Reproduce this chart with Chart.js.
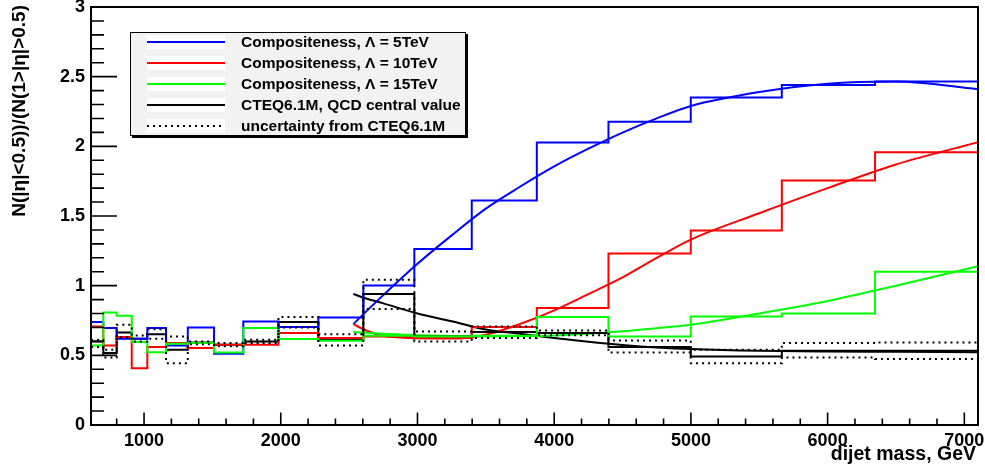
<!DOCTYPE html>
<html>
<head>
<meta charset="utf-8">
<script src="https://cdn.jsdelivr.net/npm/chart.js@4.4.1/dist/chart.umd.min.js"></script>
<style>
  html, body { margin: 0; padding: 0; background: #fff; }
  #c { display: block; }
</style>
</head>
<body>
<canvas id="c" width="985" height="467"></canvas>
<script>
// dijet mass bin edges, GeV
const binEdges = [612, 702, 800, 910, 1024, 1161, 1320, 1512, 1726, 1983, 2275, 2604, 2977, 3397, 3873, 4397, 4999, 5665, 6347, 7100];

// histogram contents, one value per bin
const lambda5 = [0.739, 0.696, 0.619, 0.619, 0.696, 0.571, 0.700, 0.511, 0.743, 0.703, 0.772, 1.002, 1.264, 1.612, 2.027, 2.177, 2.35, 2.44, 2.465];
const lambda10 = [0.707, 0.571, 0.631, 0.408, 0.559, 0.588, 0.552, 0.576, 0.576, 0.66, 0.624, 0.635, 0.624, 0.703, 0.84, 1.23, 1.396, 1.755, 1.957];
const lambda15 = [0.571, 0.808, 0.784, 0.595, 0.523, 0.583, 0.588, 0.52, 0.696, 0.617, 0.604, 0.64, 0.635, 0.64, 0.775, 0.635, 0.779, 0.80, 1.10];
const qcdCentral = [0.60, 0.516, 0.664, 0.619, 0.652, 0.54, 0.592, 0.576, 0.60, 0.739, 0.617, 0.94, 0.635, 0.667, 0.66, 0.559, 0.491, 0.532, 0.532];
const qcdUp = [0.61, 0.54, 0.719, 0.643, 0.688, 0.635, 0.60, 0.588, 0.612, 0.775, 0.652, 1.043, 0.671, 0.707, 0.679, 0.607, 0.54, 0.588, 0.592];
const qcdDown = [0.56, 0.484, 0.63, 0.60, 0.619, 0.444, 0.58, 0.565, 0.588, 0.70, 0.571, 0.832, 0.60, 0.624, 0.645, 0.52, 0.444, 0.484, 0.473];

const fitMass = [2531, 2620, 2750, 3000, 3250, 3500, 3750, 4000, 4250, 4500, 4750, 5000, 5500, 6000, 6500, 7100];
const fit5 = [0.724, 0.81, 0.932, 1.157, 1.361, 1.553, 1.71, 1.856, 1.983, 2.099, 2.201, 2.29, 2.39, 2.45, 2.465, 2.41];
const fit10 = [0.724, 0.68, 0.64, 0.622, 0.62, 0.648, 0.725, 0.823, 0.94, 1.06, 1.20, 1.331, 1.52, 1.70, 1.87, 2.03];
const fit15 = [0.667, 0.662, 0.655, 0.645, 0.638, 0.635, 0.637, 0.643, 0.655, 0.672, 0.695, 0.72, 0.80, 0.89, 1.0, 1.14];
const fitQcd = [0.94, 0.91, 0.873, 0.80, 0.745, 0.685, 0.655, 0.625, 0.598, 0.575, 0.557, 0.545, 0.532, 0.527, 0.525, 0.522];

const xTickLabels = [1000, 2000, 3000, 4000, 5000, 6000, 7000];
const yTickLabels = [0, 0.5, 1, 1.5, 2, 2.5, 3];

const legendNames = ['Compositeness, \u039b = 5TeV', 'Compositeness, \u039b = 10TeV', 'Compositeness, \u039b = 15TeV', 'CTEQ6.1M, QCD central value', 'uncertainty from CTEQ6.1M'];
const legendColors = ['#0000ff', '#ff0000', '#00ff00', '#000000', '#000000'];

const FONT = '"Liberation Sans", Arial, Helvetica, sans-serif';

function histPoints(vals) {
    const pts = vals.map((v, i) => ({ x: binEdges[i], y: v }));
    pts.push({ x: binEdges[binEdges.length - 1], y: vals[vals.length - 1] });
    return pts;
}

function curvePoints(vals) {
    return vals.map((v, i) => ({ x: fitMass[i], y: v }));
}

function histSet(vals, color, dash) {
    return {
        data: histPoints(vals),
        borderColor: color,
        borderWidth: 2,
        borderDash: dash || [],
        stepped: true,
        showLine: true,
        pointRadius: 0,
        fill: false
    };
}

function curveSet(vals, color) {
    return {
        data: curvePoints(vals),
        borderColor: color,
        borderWidth: 2,
        cubicInterpolationMode: 'monotone',
        showLine: true,
        pointRadius: 0,
        fill: false
    };
}

const frameAndLegend = {
    id: 'frameAndLegend',
    afterDraw(chart) {
        const { ctx, chartArea: a, scales: { x, y } } = chart;
        ctx.save();
        ctx.strokeStyle = '#000';

        // ticks, drawn inside the frame like ROOT does
        ctx.lineWidth = 1.6;
        ctx.beginPath();
        for (let v = 800; v <= 7000; v += 200) {
            const px = x.getPixelForValue(v);
            const len = v % 1000 === 0 ? 12.5 : 6.5;
            ctx.moveTo(px, a.bottom);
            ctx.lineTo(px, a.bottom - len);
        }
        for (let k = 1; k < 30; k++) {
            const py = y.getPixelForValue(k / 10);
            const len = k % 5 === 0 ? 26 : 13;
            ctx.moveTo(a.left, py);
            ctx.lineTo(a.left + len, py);
        }
        ctx.stroke();

        // frame
        ctx.lineWidth = 2;
        ctx.strokeRect(a.left, a.top, a.right - a.left, a.bottom - a.top);

        // axis titles
        ctx.fillStyle = '#000';
        ctx.font = 'bold 19.5px ' + FONT;
        ctx.textAlign = 'right';
        ctx.textBaseline = 'alphabetic';
        ctx.fillText('dijet mass, GeV', a.right - 2, 460);

        ctx.save();
        ctx.font = 'bold 19px ' + FONT;
        ctx.translate(25, a.top - 2);
        ctx.rotate(-Math.PI / 2);
        ctx.textAlign = 'right';
        ctx.fillText('N(|\u03b7|<0.5))/(N(1>|\u03b7|>0.5)', 0, 0);
        ctx.restore();

        // legend box with shadow
        const bx = 130, by = 32, bw = 336, bh = 104;
        ctx.fillStyle = '#000';
        ctx.fillRect(bx + 2, by + 2, bw, bh);
        ctx.fillStyle = '#f2f2f2';
        ctx.fillRect(bx, by, bw, bh);
        ctx.lineWidth = 1;
        ctx.strokeRect(bx + 0.5, by + 0.5, bw - 1, bh - 1);

        ctx.font = 'bold 15.5px ' + FONT;
        ctx.textAlign = 'left';
        ctx.textBaseline = 'middle';
        legendNames.forEach((name, i) => {
            const ry = 42 + i * 21;
            ctx.fillStyle = '#fff';
            ctx.fillRect(147, ry - 7, 78, 14);
            ctx.strokeStyle = legendColors[i];
            ctx.lineWidth = 2;
            ctx.setLineDash(i === 4 ? [2, 4] : []);
            ctx.beginPath();
            ctx.moveTo(147, ry);
            ctx.lineTo(225, ry);
            ctx.stroke();
            ctx.setLineDash([]);
            ctx.fillStyle = '#000';
            ctx.fillText(name, 241, ry + 1);
        });
        ctx.restore();
    }
};

new Chart(document.getElementById('c'), {
    type: 'scatter',
    data: {
        datasets: [
            histSet(qcdUp, '#000', [2, 4]),
            histSet(qcdDown, '#000', [2, 4]),
            histSet(lambda15, '#00ff00'),
            histSet(lambda10, '#ff0000'),
            histSet(lambda5, '#0000ff'),
            histSet(qcdCentral, '#000'),
            curveSet(fit15, '#00ff00'),
            curveSet(fit10, '#ff0000'),
            curveSet(fit5, '#0000ff'),
            curveSet(fitQcd, '#000')
        ]
    },
    options: {
        responsive: false,
        animation: false,
        layout: { padding: { top: 7, right: 7, left: 0, bottom: 0 } },
        plugins: {
            legend: { display: false },
            tooltip: { enabled: false }
        },
        scales: {
            x: {
                type: 'linear',
                min: binEdges[0],
                max: binEdges[binEdges.length - 1],
                afterBuildTicks: (s) => { s.ticks = xTickLabels.map(v => ({ value: v })); },
                afterFit: (s) => { s.height = 42; s.paddingLeft = 0; s.paddingRight = 0; },
                grid: { display: false, drawTicks: false },
                border: { display: false },
                ticks: {
                    padding: 5,
                    color: '#000',
                    font: { family: FONT, size: 18, weight: 'bold' },
                    callback: (v) => String(v),
                    maxRotation: 0,
                    autoSkip: false
                }
            },
            y: {
                min: 0,
                max: 3,
                afterBuildTicks: (s) => { s.ticks = yTickLabels.map(v => ({ value: v })); },
                afterFit: (s) => { s.width = 91; s.paddingTop = 0; s.paddingBottom = 0; },
                grid: { display: false, drawTicks: false },
                border: { display: false },
                ticks: {
                    padding: 6,
                    color: '#000',
                    font: { family: FONT, size: 18, weight: 'bold' },
                    callback: (v) => String(v),
                    autoSkip: false
                }
            }
        }
    },
    plugins: [frameAndLegend]
});
</script>
</body>
</html>
